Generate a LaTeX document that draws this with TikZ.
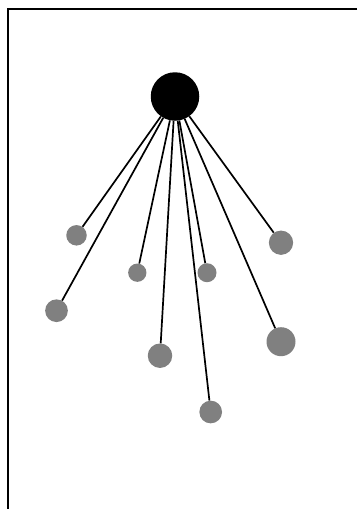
\documentclass[tikz,border=0pt]{standalone}
\usepackage{tikz}
\usetikzlibrary{positioning,calc}
\usepackage{xcolor}

\begin{document}
\begin{tikzpicture}[
    x=1pt, y=-1pt,
    hub/.style={circle, fill=black, inner sep=0pt, minimum size=48.5pt},
    leaf/.style={circle, fill=gray, inner sep=0pt},
    link/.style={line width=1.7pt},
    frame/.style={line width=2.4pt}
]
\useasboundingbox (0,0) rectangle (357,509);

% 边框
\coordinate (corner) at (7.7,8.7);
\draw[frame] (357,8.7) -- (corner) -- (7.7,509);

% 中心节点
\node[hub] (hub) at (175,96.5) {};

% 外围节点
\node[leaf, minimum size=20.5pt] (l1) at (76.5,235.3) {};
\node[leaf, minimum size=22.7pt] (l2) at (56.5,310.7) {};
\node[leaf, minimum size=18.3pt] (l3) at (137.3,272.7) {};
\node[leaf, minimum size=24.5pt] (l4) at (160,355.7) {};
\node[leaf, minimum size=19pt] (l5) at (207,272.7) {};
\node[leaf, minimum size=22.7pt] (l6) at (210.7,412) {};
\node[leaf, minimum size=24.3pt] (l7) at (281,242.7) {};
\node[leaf, minimum size=29pt] (l8) at (281,341.7) {};

% 连线
\draw[link] (hub) -- (l1);
\draw[link] (hub) -- (l2);
\draw[link] (hub) -- (l3);
\draw[link] (hub) -- (l4);
\draw[link] (hub) -- (l5);
\draw[link] (hub) -- (l6);
\draw[link] (hub) -- (l7);
\draw[link] (hub) -- (l8);

\end{tikzpicture}
\end{document}
